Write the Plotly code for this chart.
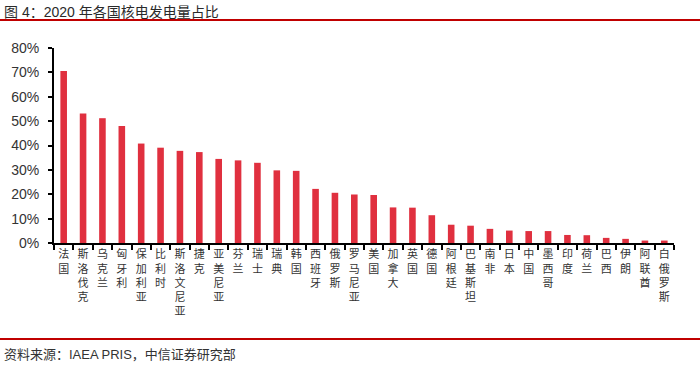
import plotly.graph_objects as go

countries = ["法国", "斯洛伐克", "乌克兰", "匈牙利", "保加利亚", "比利时", "斯洛文尼亚", "捷克",
             "亚美尼亚", "芬兰", "瑞士", "瑞典", "韩国", "西班牙", "俄罗斯", "罗马尼亚", "美国",
             "加拿大", "英国", "德国", "阿根廷", "巴基斯坦", "南非", "日本", "中国", "墨西哥",
             "印度", "荷兰", "巴西", "伊朗", "阿联酋", "白俄罗斯"]
share = [70.6, 53.1, 51.2, 48.0, 40.8, 39.1, 37.8, 37.3,
         34.5, 33.9, 32.9, 29.8, 29.6, 22.2, 20.6, 19.9, 19.7,
         14.6, 14.5, 11.4, 7.5, 7.1, 5.8, 5.1, 4.9, 4.9,
         3.3, 3.2, 2.1, 1.7, 1.0, 1.0]
y_ticks = [0, 10, 20, 30, 40, 50, 60, 70, 80]
y_tick_text = ["0%", "10%", "20%", "30%", "40%", "50%", "60%", "70%", "80%"]

title = "图 4：2020 年各国核电发电量占比"
source = "资料来源：IAEA PRIS，中信证券研究部"

stacked = ["<br>".join(list(c)) for c in countries]

W, H = 700, 368
L, R, T, B = 54, 26, 48, 125
pw = W - L - R
ph = H - T - B

def py(pixel_y):
    return (H - B - pixel_y) / ph

def px(pixel_x):
    return (pixel_x - L) / pw

fig = go.Figure(go.Bar(x=stacked, y=share, marker=dict(color="#E0303F", line=dict(width=0))))

fig.update_layout(
    width=W, height=H,
    margin=dict(l=L, r=R, t=T, b=B, autoexpand=False),
    paper_bgcolor="white", plot_bgcolor="white",
    bargap=0.66, showlegend=False,
    font=dict(family="Liberation Sans, Noto Sans CJK SC", color="#333333"),
)
fig.update_yaxes(range=[0, 80], tickvals=y_ticks, ticktext=y_tick_text, automargin=False,
                 showgrid=False, zeroline=False, showline=True, linecolor="black", linewidth=2,
                 ticks="outside", ticklen=4, tickcolor="black", tickwidth=1.5,
                 ticklabelstandoff=6,
                 tickfont=dict(size=14, color="#333333", family="Liberation Sans"))
fig.update_xaxes(showgrid=False, showline=True, linecolor="black", linewidth=2, automargin=False,
                 ticks="outside", tickson="boundaries", ticklen=5, tickcolor="black", tickwidth=1.5,
                 tickangle=0, tickfont=dict(size=11, color="#333333", family="Noto Sans CJK SC"))

fig.add_annotation(text=title, xref="paper", yref="paper", x=px(2), y=py(12),
                   xanchor="left", yanchor="middle",
                   font=dict(size=14, color="#2a2a2a", family="Liberation Sans, Noto Sans CJK SC"),
                   showarrow=False)
fig.add_annotation(text=source, xref="paper", yref="paper", x=px(2), y=py(354),
                   xanchor="left", yanchor="middle",
                   font=dict(size=13, color="#333333", family="Liberation Sans, Noto Sans CJK SC"),
                   showarrow=False)
fig.add_shape(type="line", xref="paper", yref="paper", x0=px(0), x1=px(W), y0=py(20), y1=py(20),
              line=dict(color="#C00000", width=2))
fig.add_shape(type="line", xref="paper", yref="paper", x0=px(0), x1=px(W), y0=py(339), y1=py(339),
              line=dict(color="#C00000", width=2))

fig.write_html("out.html", config={"displayModeBar": False},
               post_script="document.body.style.margin='0';")
